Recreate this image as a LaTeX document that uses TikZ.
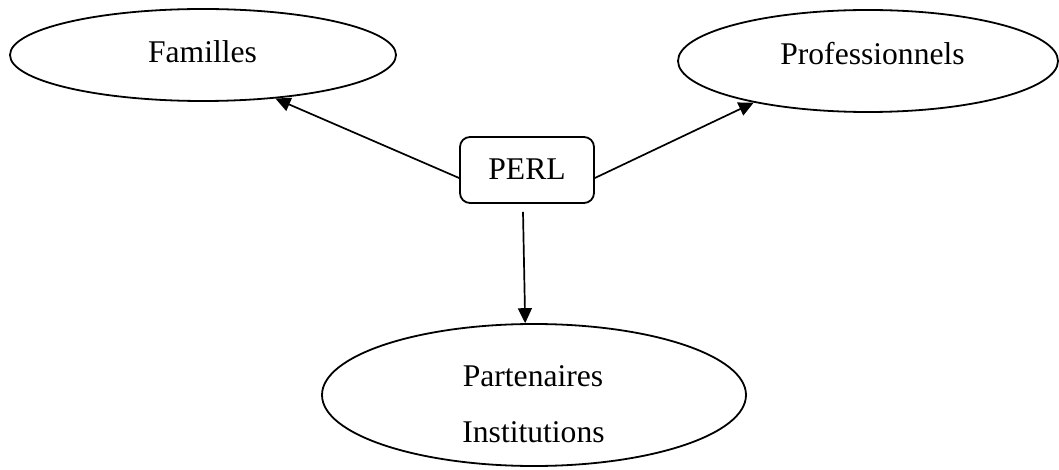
\documentclass[tikz,border=0pt]{standalone}
\usepackage{fontspec}
\setmainfont{Liberation Serif}
\usetikzlibrary{shapes.geometric,arrows.meta}
\begin{document}
\begin{tikzpicture}[x=1pt,y=-1pt,
  oval/.style={ellipse,draw,line width=1.8pt,inner sep=0pt},
  lbl/.style={font=\fontsize{31.6}{38}\selectfont,inner sep=0pt,anchor=base},
  arr/.style={line width=1.7pt,-{Triangle[length=15pt,width=14pt]}}]
\useasboundingbox (0,0) rectangle (1059,470);
\node[oval,minimum width=386pt,minimum height=92pt] (fam) at (203,55) {};
\node[lbl] (famt) at (202.5,63) {Familles};
\node[oval,minimum width=380pt,minimum height=102pt] (prof) at (868,61) {};
\node[lbl] (proft) at (872.5,65) {Professionnels};
\node[draw,rounded corners=10pt,line width=1.8pt,minimum width=134pt,minimum height=66pt,inner sep=0pt] (perl) at (527,170) {};
\node[lbl] (perlt) at (527,180) {PERL};
\node[oval,minimum width=424pt,minimum height=142pt] (part) at (534,395) {};
\node[lbl] (partt1) at (533,386) {Partenaires};
\node[lbl] (partt2) at (533.5,442) {Institutions};
\draw[arr] ([yshift=-8pt]perl.west) -- (fam.-31);
\draw[arr] ([yshift=-8pt]perl.east) -- (prof.200.7);
\draw[arr] ([xshift=-4pt,yshift=-8pt]perl.south) -- (part.97.2);
\end{tikzpicture}
\end{document}
